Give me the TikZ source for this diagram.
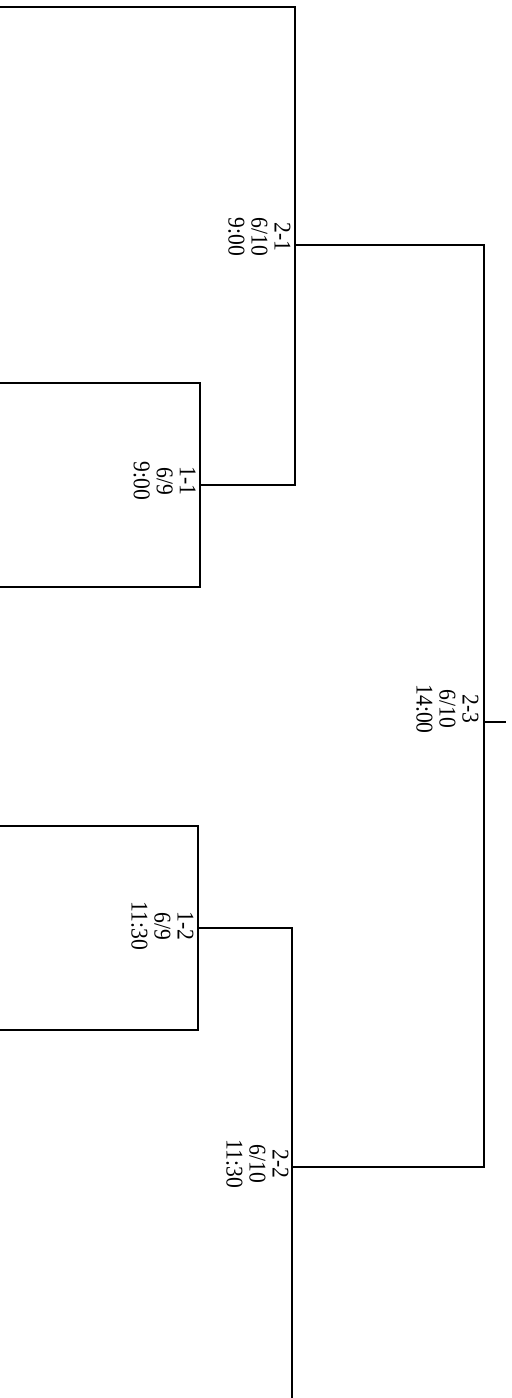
\documentclass[tikz,border=0pt]{standalone}
\usepackage{fontspec}
\setmainfont{Liberation Serif}
\begin{document}
\begin{tikzpicture}[x=0.5pt,y=-0.5pt,
  wire/.style={line width=1pt,line join=miter},
  lbl/.style={rotate=-90,xscale=0.9,anchor=north,inner sep=0pt,align=center,
    font=\fontsize{12}{11.5}\selectfont}]
\useasboundingbox (0,0) rectangle (512,1398);
% coordinates
\coordinate (a1) at (0,7);
\coordinate (a2) at (295,7);
\coordinate (j21) at (295,245);
\coordinate (b2) at (295,485);
\coordinate (c1) at (0,383);
\coordinate (c2) at (200,383);
\coordinate (c3) at (200,587);
\coordinate (c4) at (0,587);
\coordinate (j11) at (200,485);
\coordinate (k21) at (484,245);
\coordinate (j23) at (484,722);
\coordinate (k22) at (484,1167);
\coordinate (e23) at (506,722);
\coordinate (d1) at (0,826);
\coordinate (d2) at (198,826);
\coordinate (d3) at (198,1030);
\coordinate (d4) at (0,1030);
\coordinate (j12) at (198,928);
\coordinate (m12) at (292,928);
\coordinate (j22) at (292,1167);
\coordinate (bot) at (292,1398);
% wires
\draw[wire] (a1) -- (a2) -- (b2) -- (j11);
\draw[wire] (c1) -- (c2) -- (c3) -- (c4);
\draw[wire] (j21) -- (k21) -- (k22) -- (j22);
\draw[wire] (j23) -- (e23);
\draw[wire] (d1) -- (d2) -- (d3) -- (d4);
\draw[wire] (j12) -- (m12) -- (bot);
% labels
\node[lbl] (l21) at (291,237) {2-1\\6/10\\9:00};
\node[lbl] (l11) at (196,481) {1-1\\6/9\\9:00};
\node[lbl] (l23) at (479,709) {2-3\\6/10\\14:00};
\node[lbl] (l12) at (194,926) {1-2\\6/9\\11:30};
\node[lbl] (l22) at (289,1164) {2-2\\6/10\\11:30};
\end{tikzpicture}
\end{document}
